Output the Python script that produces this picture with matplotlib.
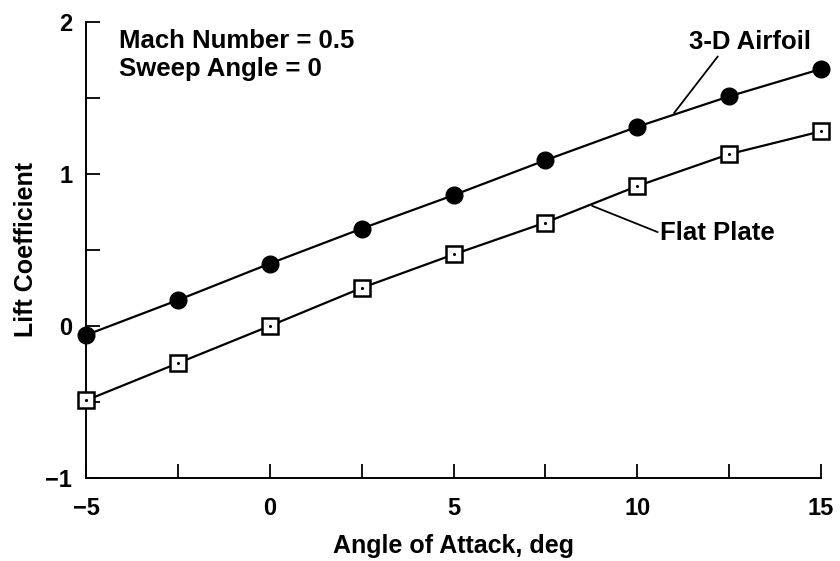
import numpy as np
import matplotlib
matplotlib.use('Agg')
import matplotlib.pyplot as plt
from matplotlib.ticker import MultipleLocator

# data
alpha = [-5, -2.5, 0, 2.5, 5, 7.5, 10, 12.5, 15]
cl_airfoil = [-0.06, 0.17, 0.41, 0.64, 0.86, 1.09, 1.31, 1.51, 1.69]
cl_flat = [-0.49, -0.245, 0.0, 0.25, 0.47, 0.68, 0.92, 1.13, 1.28]

x_ticks = [-5, 0, 5, 10, 15]
y_ticks = [-1, 0, 1, 2]

plt.rcParams['font.family'] = ['Liberation Sans', 'DejaVu Sans']
plt.rcParams['font.weight'] = 'bold'

fig = plt.figure(figsize=(8.4, 5.61), dpi=100)
ax = fig.add_axes([0.1024, 0.148, 0.875, 0.813])

# 3-D airfoil: filled circles
ax.plot(alpha, cl_airfoil, color='black', lw=1.6, marker='o', ms=12,
        mfc='black', mec='black', clip_on=False, zorder=3)

# flat plate: open squares with a center dot
ax.plot(alpha, cl_flat, color='black', lw=1.6, marker='s', ms=11,
        mfc='white', mec='black', mew=1.8, clip_on=False, zorder=3)
ax.plot(alpha, cl_flat, ls='none', marker='.', ms=2.5, color='black',
        clip_on=False, zorder=4)

ax.set_xlim(-5, 15)
ax.set_ylim(-1, 2)

ax.xaxis.set_minor_locator(MultipleLocator(2.5))
ax.yaxis.set_minor_locator(MultipleLocator(0.5))
ax.set_xticks(x_ticks)
ax.set_yticks(y_ticks)
ax.set_xticklabels(['\u22125', '0', '5', '10', '15'])
ax.set_yticklabels(['\u22121', '0', '1', '2'])

ax.tick_params(which='both', direction='in', length=10, width=1.3,
               labelsize=17)
ax.tick_params(axis='x', which='both', pad=14)
ax.tick_params(axis='y', which='both', pad=10)

for side in ['top', 'right']:
    ax.spines[side].set_visible(False)
for side in ['left', 'bottom']:
    ax.spines[side].set_linewidth(1.4)

ax.set_xlabel('Angle of Attack, deg', fontsize=18, fontweight='bold', labelpad=10)
ax.set_ylabel('Lift Coefficient', fontsize=18, fontweight='bold', labelpad=5)

ax.text(-4.09, 1.955, 'Mach Number = 0.5\nSweep Angle = 0', fontsize=18.5,
        fontweight='bold', ha='left', va='top', linespacing=1.25)

ax.annotate('3-D Airfoil', xy=(11.0, 1.40), xytext=(11.42, 1.87),
            fontsize=18.5, fontweight='bold', ha='left', va='center',
            arrowprops=dict(arrowstyle='-', color='black', lw=1.3,
                            relpos=(0.25, 0.0), shrinkA=0, shrinkB=0))
ax.annotate('Flat Plate', xy=(8.77, 0.79), xytext=(10.63, 0.61),
            fontsize=18.5, fontweight='bold', ha='left', va='center',
            arrowprops=dict(arrowstyle='-', color='black', lw=1.3,
                            relpos=(0.0, 0.5), shrinkA=0, shrinkB=0))

fig.savefig('out.png', dpi=100)
